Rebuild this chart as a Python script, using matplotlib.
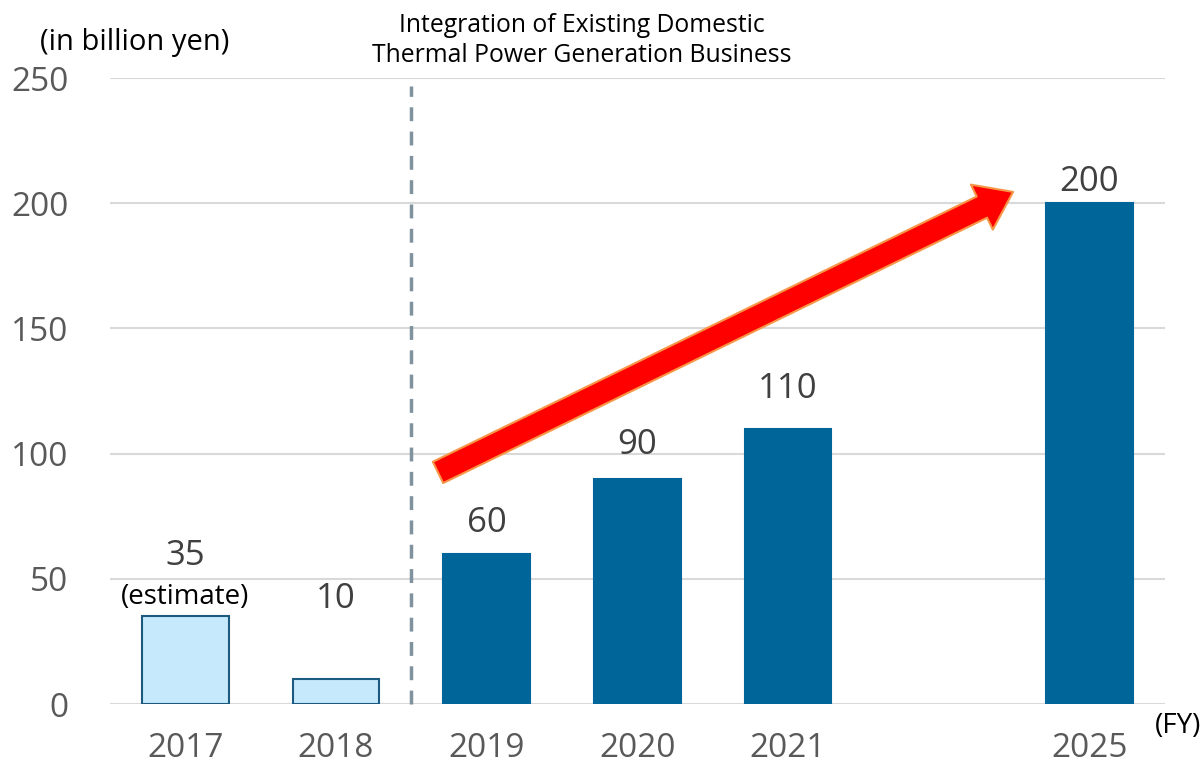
import matplotlib
matplotlib.use("Agg")
import matplotlib.pyplot as plt
import matplotlib.patches as mpatches

plt.rcParams['font.family'] = ['Open Sans', 'DejaVu Sans']

years = ['2017', '2018', '2019', '2020', '2021', '2025']
positions = [0, 1, 2, 3, 4, 6]
values = [35, 10, 60, 90, 110, 200]
is_estimate = [True, True, False, False, False, False]
y_ticks = [0, 50, 100, 150, 200, 250]

LIGHT = '#C6E9FB'
LIGHT_EDGE = '#1C5A80'
DARK = '#006699'
GRID = '#D9D9D9'
TICK_COLOR = '#595959'
LABEL_COLOR = '#404040'

# vertical offset (points) of each value label above its bar
label_offsets = [31, 45, 10, 12, 16, 3]

fig = plt.figure(figsize=(12.04, 7.64), dpi=100)
ax = fig.add_axes([0.0914, 0.0785, 0.876, 0.8194])

colors = [LIGHT if e else DARK for e in is_estimate]
edges = [LIGHT_EDGE if e else DARK for e in is_estimate]
ax.bar(positions, values, width=0.575, color=colors, edgecolor=edges,
       linewidth=1.5, zorder=3)

for x, v, off in zip(positions, values, label_offsets):
    ax.annotate(str(v), (x, v), xytext=(0, off), textcoords='offset points',
                ha='center', va='bottom', fontsize=25, color=LABEL_COLOR)
ax.annotate('(estimate)', (positions[0], values[0]), xytext=(0, 4),
            textcoords='offset points', ha='center', va='bottom',
            fontsize=20, color='black')

ax.set_xlim(-0.5, 6.5)
ax.set_ylim(0, 250)
ax.set_yticks(y_ticks)
ax.set_xticks(positions)
ax.set_xticklabels(years)
ax.tick_params(axis='y', length=0, pad=30, labelsize=24, labelcolor=TICK_COLOR)
ax.tick_params(axis='x', length=0, pad=20, labelsize=24, labelcolor=TICK_COLOR)
ax.grid(axis='y', color=GRID, linewidth=1.5, zorder=0)
ax.set_axisbelow(True)
for s in ax.spines.values():
    s.set_visible(False)

# dashed separator between existing and integrated business
ax.plot([1.5, 1.5], [0, 247], color='#7F929E', linestyle=(0, (4, 3)),
        linewidth=2.5, zorder=4, clip_on=False)

# growth arrow
arrow = mpatches.FancyArrowPatch(
    (1.66, 92), (5.51, 205),
    arrowstyle='simple,tail_width=17,head_width=36,head_length=25',
    facecolor='#FF0000', edgecolor='#F79646', linewidth=1.5, zorder=5)
ax.add_patch(arrow)

fig.text(0.112, 0.945, '(in billion yen)', ha='center', va='center',
         fontsize=21, color='black')
fig.text(0.483, 0.947, 'Integration of Existing Domestic\nThermal Power Generation Business',
         ha='center', va='center', fontsize=17.8, color='black', linespacing=1.3)
fig.text(0.9975, 0.05, '(FY)', ha='right', va='center', fontsize=20,
         color='black')

fig.savefig('out.png', dpi=100)
